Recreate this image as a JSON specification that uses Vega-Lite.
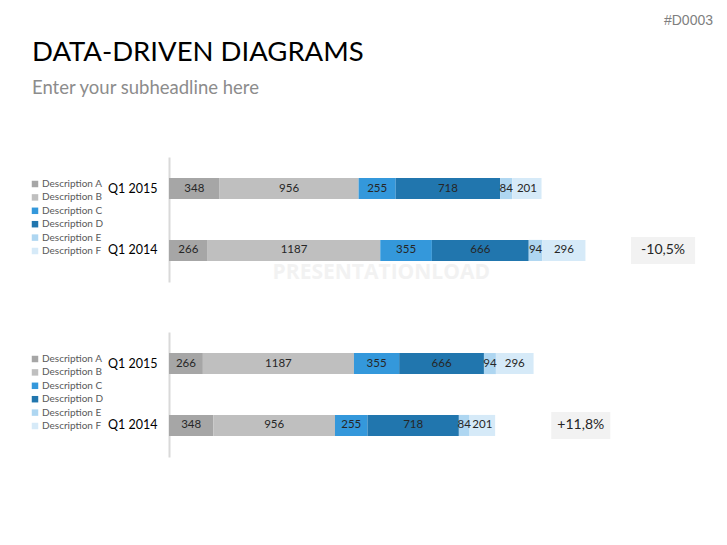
{
  "$schema": "https://vega.github.io/schema/vega-lite/v6.json",
  "background": "white",
  "padding": {"left": 30, "top": 14, "right": 5, "bottom": 5},
  "title": {"text": "#D0003", "anchor": "end", "frame": "bounds", "dx": 6, "offset": 11, "fontSize": 14, "font": "Liberation Sans", "fontWeight": "normal", "color": "#7F7F7F"},
  "config": {"font": "Lato", "view": {"stroke": null}},
  "datasets": {
    "top": [
      {"period": "Q1 2015", "desc": "Description A", "value": 348},
      {"period": "Q1 2015", "desc": "Description B", "value": 956},
      {"period": "Q1 2015", "desc": "Description C", "value": 255},
      {"period": "Q1 2015", "desc": "Description D", "value": 718},
      {"period": "Q1 2015", "desc": "Description E", "value": 84},
      {"period": "Q1 2015", "desc": "Description F", "value": 201},
      {"period": "Q1 2014", "desc": "Description A", "value": 266},
      {"period": "Q1 2014", "desc": "Description B", "value": 1187},
      {"period": "Q1 2014", "desc": "Description C", "value": 355},
      {"period": "Q1 2014", "desc": "Description D", "value": 666},
      {"period": "Q1 2014", "desc": "Description E", "value": 94},
      {"period": "Q1 2014", "desc": "Description F", "value": 296}
    ],
    "bottom": [
      {"period": "Q1 2015", "desc": "Description A", "value": 266},
      {"period": "Q1 2015", "desc": "Description B", "value": 1187},
      {"period": "Q1 2015", "desc": "Description C", "value": 355},
      {"period": "Q1 2015", "desc": "Description D", "value": 666},
      {"period": "Q1 2015", "desc": "Description E", "value": 94},
      {"period": "Q1 2015", "desc": "Description F", "value": 296},
      {"period": "Q1 2014", "desc": "Description A", "value": 348},
      {"period": "Q1 2014", "desc": "Description B", "value": 956},
      {"period": "Q1 2014", "desc": "Description C", "value": 255},
      {"period": "Q1 2014", "desc": "Description D", "value": 718},
      {"period": "Q1 2014", "desc": "Description E", "value": 84},
      {"period": "Q1 2014", "desc": "Description F", "value": 201}
    ],
    "topChange": [{"period": "Q1 2014", "change": "-10,5%", "brand": "PRESENTATIONLOAD"}],
    "bottomChange": [{"period": "Q1 2014", "change": "+11,8%"}]
  },
  "spacing": 48,
  "vconcat": [
    {
      "width": 538,
      "height": 125,
      "title": {"text": "DATA-DRIVEN DIAGRAMS", "subtitle": "Enter your subheadline here", "anchor": "start", "frame": "group", "dx": -137, "offset": 60, "fontSize": 27.5, "font": "Lato", "fontWeight": "normal", "color": "#000000", "subtitleFontSize": 18.5, "subtitleFont": "Lato", "subtitleColor": "#8C8C8C", "subtitlePadding": 12},
      "layer": [
        {
          "data": {"name": "topChange"},
          "mark": {"type": "text", "fontSize": 21, "font": "Open Sans", "fontWeight": "bold", "color": "#F2F2F2", "yOffset": 23},
          "encoding": {
            "x": {"datum": 1460, "type": "quantitative", "scale": {"domain": [0, 3700], "nice": false, "zero": true}, "axis": null},
            "y": {"field": "period", "type": "nominal", "scale": {"domain": ["Q1 2015", "Q1 2014"], "paddingInner": 0.66, "paddingOuter": 0.34},
                  "axis": {"title": null, "domainColor": "#D9D9D9", "domainWidth": 2, "ticks": false, "tickSize": 0, "labelPadding": 12, "labelFontSize": 12.5, "labelColor": "#000000", "labelFont": "Lato", "grid": false}},
            "text": {"field": "brand"}
          }
        },
        {
          "data": {"name": "top"},
          "transform": [{"stack": "value", "groupby": ["period"], "sort": [{"field": "desc", "order": "ascending"}], "as": ["v0", "v1"]}],
          "mark": {"type": "bar"},
          "encoding": {
            "y": {"field": "period", "type": "nominal"},
            "x": {"field": "v0", "type": "quantitative"},
            "x2": {"field": "v1"},
            "color": {"field": "desc", "type": "nominal",
                      "scale": {"domain": ["Description A", "Description B", "Description C", "Description D", "Description E", "Description F"], "range": ["#A6A6A6", "#BFBFBF", "#3498DB", "#2176AE", "#AED6F1", "#D6EAF8"]},
                      "legend": {"title": null, "orient": "none", "legendX": -139, "legendY": 22, "symbolType": "square", "symbolSize": 42, "symbolStrokeWidth": 0, "labelFontSize": 10, "labelColor": "#595959", "labelFont": "Lato", "rowPadding": 3.4, "labelOffset": 2, "padding": 0}}
          }
        },
        {
          "data": {"name": "top"},
          "mark": {"type": "text", "fontSize": 11.5, "color": "#262626"},
          "encoding": {
            "y": {"field": "period", "type": "nominal"},
            "x": {"field": "value", "type": "quantitative", "stack": "zero", "bandPosition": 0.5},
            "detail": {"field": "desc"},
            "order": {"field": "desc", "sort": "ascending"},
            "text": {"field": "value"}
          }
        },
        {
          "data": {"name": "topChange"},
          "mark": {"type": "bar", "height": 27, "color": "#F2F2F2"},
          "encoding": {
            "y": {"field": "period", "type": "nominal"},
            "x": {"datum": 3177, "type": "quantitative"},
            "x2": {"datum": 3618}
          }
        },
        {
          "data": {"name": "topChange"},
          "mark": {"type": "text", "fontSize": 14, "color": "#262626"},
          "encoding": {
            "y": {"field": "period", "type": "nominal"},
            "x": {"datum": 3398, "type": "quantitative"},
            "text": {"field": "change"}
          }
        }
      ]
    },
    {
      "width": 471,
      "height": 125,
      "layer": [
        {
          "data": {"name": "bottom"},
          "transform": [{"stack": "value", "groupby": ["period"], "sort": [{"field": "desc", "order": "ascending"}], "as": ["v0", "v1"]}],
          "mark": {"type": "bar"},
          "encoding": {
            "y": {"field": "period", "type": "nominal", "scale": {"domain": ["Q1 2015", "Q1 2014"], "paddingInner": 0.66, "paddingOuter": 0.34},
                  "axis": {"title": null, "domainColor": "#D9D9D9", "domainWidth": 2, "ticks": false, "tickSize": 0, "labelPadding": 12, "labelFontSize": 12.5, "labelColor": "#000000", "labelFont": "Lato", "grid": false}},
            "x": {"field": "v0", "type": "quantitative", "scale": {"domain": [0, 3700], "nice": false, "zero": true}, "axis": null},
            "x2": {"field": "v1"},
            "color": {"field": "desc", "type": "nominal",
                      "scale": {"domain": ["Description A", "Description B", "Description C", "Description D", "Description E", "Description F"], "range": ["#A6A6A6", "#BFBFBF", "#3498DB", "#2176AE", "#AED6F1", "#D6EAF8"]},
                      "legend": {"title": null, "orient": "none", "legendX": -139, "legendY": 22, "symbolType": "square", "symbolSize": 42, "symbolStrokeWidth": 0, "labelFontSize": 10, "labelColor": "#595959", "labelFont": "Lato", "rowPadding": 3.4, "labelOffset": 2, "padding": 0}}
          }
        },
        {
          "data": {"name": "bottom"},
          "mark": {"type": "text", "fontSize": 11.5, "color": "#262626"},
          "encoding": {
            "y": {"field": "period", "type": "nominal"},
            "x": {"field": "value", "type": "quantitative", "stack": "zero", "bandPosition": 0.5},
            "detail": {"field": "desc"},
            "order": {"field": "desc", "sort": "ascending"},
            "text": {"field": "value"}
          }
        },
        {
          "data": {"name": "bottomChange"},
          "mark": {"type": "bar", "height": 27, "color": "#F2F2F2"},
          "encoding": {
            "y": {"field": "period", "type": "nominal"},
            "x": {"datum": 3003, "type": "quantitative"},
            "x2": {"datum": 3467}
          }
        },
        {
          "data": {"name": "bottomChange"},
          "mark": {"type": "text", "fontSize": 14, "color": "#262626"},
          "encoding": {
            "y": {"field": "period", "type": "nominal"},
            "x": {"datum": 3235, "type": "quantitative"},
            "text": {"field": "change"}
          }
        }
      ]
    }
  ],
  "resolve": {"scale": {"x": "independent", "y": "independent", "color": "independent"}, "legend": {"color": "independent"}}
}
